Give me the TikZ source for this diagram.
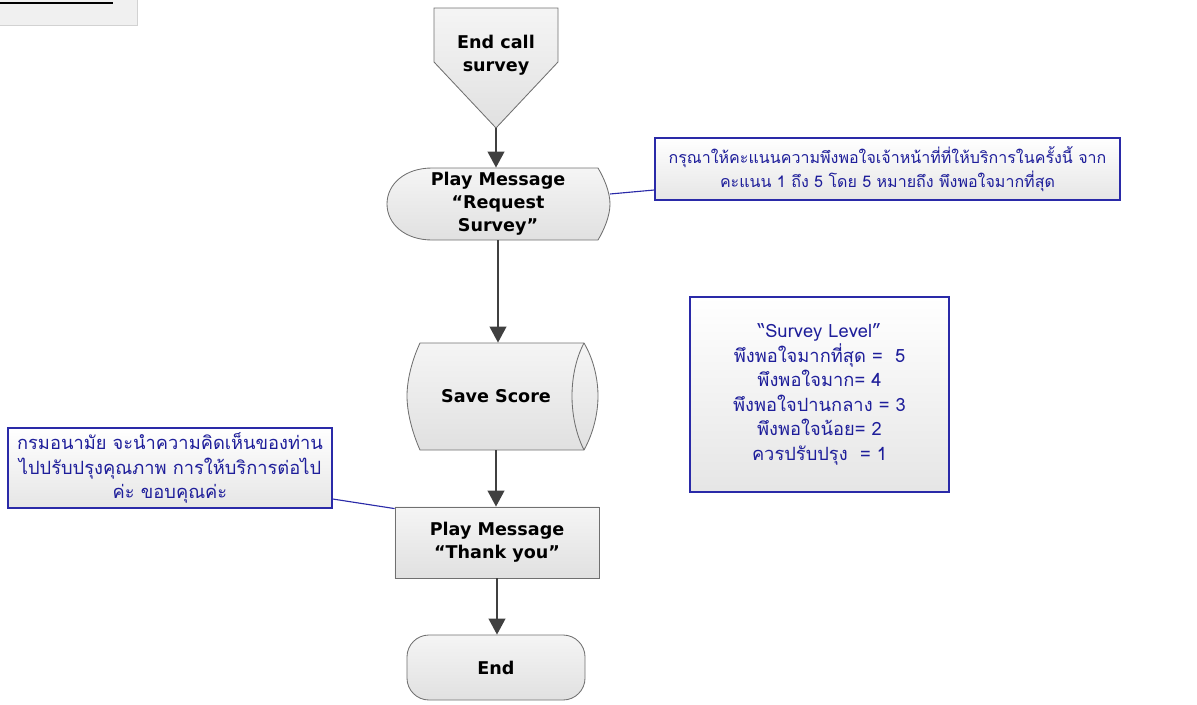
\documentclass[tikz,border=0pt]{standalone}
\usepackage{fontspec}
\setmainfont{DejaVu Sans}
\newfontfamily\thaifont[Script=Thai]{Loma}
\usetikzlibrary{arrows.meta}
\definecolor{shapeline}{HTML}{707070}
\definecolor{noteblue}{HTML}{2A2AA8}
\definecolor{notetext}{HTML}{1E1E9A}
\definecolor{flowarrow}{HTML}{404040}
\begin{document}
\begin{tikzpicture}[x=0.025cm, y=-0.025cm, line width=0.6pt,
  flowtext/.style={font=\fontsize{12.5}{16.3}\selectfont\bfseries, align=center, inner sep=0pt},
  shapebody/.style={draw=shapeline, top color=white!96!black, bottom color=white!88!black},
  notebox/.style={draw=noteblue, line width=1pt, top color=white, bottom color=white!90!black,
    text=notetext, font=\thaifont\fontsize{13}{17.5}\selectfont, align=center, inner sep=2pt},
  flowline/.style={draw=flowarrow, line width=1.2pt, -{Triangle[width=0.42cm,length=0.4cm]}},
  notelink/.style={draw=noteblue, line width=0.8pt}]
  \useasboundingbox (0,0) rectangle (1197,704);
  \draw[draw=gray!35, fill=gray!12] (-2,-2) rectangle (137,25);
  \draw[line width=1.2pt] (-2,3) -- (113,3);
  \draw[shapebody] (434,8) -- (558,8) -- (558,62) -- (496,128) -- (434,62) -- cycle;
  \node[flowtext] (start) at (496,55) {End call\\survey};
  \coordinate (starttip) at (496,128);
  \draw[shapebody] (432,168) -- (598,168) .. controls (604,178) and (610,192) .. (610,204)
    .. controls (610,216) and (604,230) .. (598,240) -- (432,240)
    .. controls (405,240) and (387,224) .. (387,204) .. controls (387,184) and (405,168) .. (432,168) -- cycle;
  \node[flowtext, minimum width=5.575cm, minimum height=1.8cm] (req) at (498,204) {Play Message\\“Request\\Survey”};
  \draw[shapebody] (420,343) -- (584,343) .. controls (594,360) and (598,380) .. (598,396)
    .. controls (598,412) and (594,432) .. (584,450) -- (420,450)
    .. controls (412,432) and (407,412) .. (407,396) .. controls (407,380) and (412,360) .. (420,343) -- cycle;
  \draw[shapeline] (584,343) .. controls (575,360) and (572,380) .. (572,396)
    .. controls (572,412) and (575,432) .. (584,450);
  \node[flowtext, minimum width=4.45cm, minimum height=2.675cm] (save) at (496,396.5) {Save Score};
  \node[flowtext, shapebody, minimum width=5.1cm, minimum height=1.775cm] (thanks) at (497,542.5) {Play Message\\“Thank you”};
  \node[flowtext, shapebody, rounded corners=0.55cm, minimum width=4.45cm, minimum height=1.625cm] (finish) at (496,667.5) {End};
  \draw[flowline] (starttip) -- (starttip |- req.north);
  \draw[flowline] (req.south) -- (req.south |- save.north);
  \draw[flowline] (save.south) -- (save.south |- thanks.north);
  \draw[flowline] (thanks.south) -- (thanks.south |- finish.north);
  \node[notebox, font=\thaifont\fontsize{11.4}{17}\selectfont, minimum width=11.625cm, minimum height=1.55cm] (reqnote) at (887.5,169)
    {กรุณาให้คะแนนความพึงพอใจเจ้าหน้าที่ที่ให้บริการในครั้งนี้ จาก\\คะแนน 1 ถึง 5 โดย 5 หมายถึง พึงพอใจมากที่สุด};
  \node[notebox, minimum width=6.475cm, minimum height=4.875cm] (levelnote) at (819.5,394.5)
    {“Survey Level”\\พึงพอใจมากที่สุด =~~5\\พึงพอใจมาก= 4\\พึงพอใจปานกลาง = 3\\พึงพอใจน้อย= 2\\ควรปรับปรุง~ = 1};
  \node[notebox, minimum width=8.1cm, minimum height=2cm] (thanksnote) at (170,468)
    {กรมอนามัย จะนำความคิดเห็นของท่าน\\ไปปรับปรุงคุณภาพ การให้บริการต่อไป\\ค่ะ ขอบคุณค่ะ};
  \draw[notelink] ([yshift=0.25cm]req.east) -- ([yshift=-0.525cm]reqnote.west);
  \draw[notelink] ([yshift=-0.775cm]thanksnote.east) -- ([yshift=-0.05cm]thanks.north west);
\end{tikzpicture}
\end{document}
